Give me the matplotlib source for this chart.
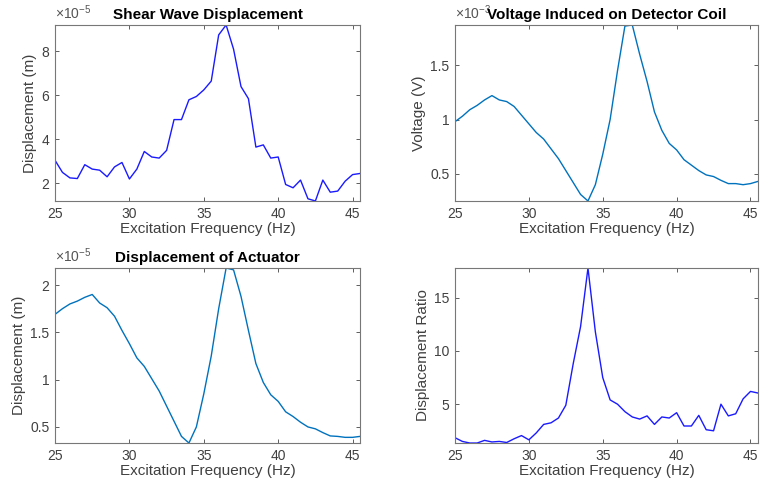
import numpy as np
import matplotlib
matplotlib.use('Agg')
import matplotlib.pyplot as plt
from matplotlib.ticker import FuncFormatter

plt.rcParams['font.family'] = ['Liberation Sans', 'DejaVu Sans']
plt.rcParams['mathtext.fontset'] = 'custom'
plt.rcParams['mathtext.rm'] = 'Liberation Sans'

freq = [25, 25.5, 26, 26.5, 27, 27.5, 28, 28.5, 29, 29.5, 30, 30.5, 31, 31.5,
        32, 32.5, 33, 33.5, 34, 34.5, 35, 35.5, 36, 36.5, 37, 37.5, 38, 38.5,
        39, 39.5, 40, 40.5, 41, 41.5, 42, 42.5, 43, 43.5, 44, 44.5, 45, 45.5]

# shear wave displacement, x1e-5 m
shear = [3.05, 2.5, 2.25, 2.22, 2.85, 2.65, 2.6, 2.3, 2.75, 2.95, 2.2, 2.65,
         3.45, 3.2, 3.15, 3.5, 4.9, 4.9, 5.8, 5.95, 6.25, 6.65, 8.75, 9.2,
         8.1, 6.4, 5.85, 3.65, 3.75, 3.15, 3.2, 1.95, 1.8, 2.15, 1.3, 1.2,
         2.15, 1.6, 1.65, 2.1, 2.4, 2.45]

# detector coil voltage, x1e-3 V
voltage = [0.98, 1.03, 1.09, 1.13, 1.18, 1.22, 1.18, 1.165, 1.12, 1.04, 0.96,
           0.88, 0.82, 0.73, 0.64, 0.53, 0.42, 0.31, 0.25, 0.40, 0.68, 1.00,
           1.45, 1.86, 1.87, 1.60, 1.35, 1.07, 0.90, 0.78, 0.72, 0.63, 0.58,
           0.53, 0.49, 0.475, 0.44, 0.41, 0.41, 0.40, 0.41, 0.43]

# actuator displacement, x1e-5 m
actuator = [1.69, 1.75, 1.80, 1.83, 1.87, 1.90, 1.81, 1.76, 1.67, 1.52, 1.38,
            1.23, 1.14, 1.01, 0.88, 0.72, 0.56, 0.40, 0.33, 0.50, 0.85, 1.25,
            1.75, 2.18, 2.16, 1.88, 1.52, 1.17, 0.97, 0.84, 0.77, 0.66, 0.61,
            0.55, 0.50, 0.48, 0.44, 0.405, 0.40, 0.39, 0.39, 0.40]

ratio = [1.85, 1.5, 1.35, 1.35, 1.6, 1.45, 1.5, 1.4, 1.75, 2.05, 1.65, 2.3,
         3.1, 3.25, 3.7, 4.9, 8.8, 12.3, 17.8, 11.8, 7.5, 5.4, 5.0, 4.3, 3.8,
         3.6, 3.9, 3.1, 3.8, 3.7, 4.2, 2.95, 2.95, 3.95, 2.6, 2.5, 5.0, 3.9,
         4.1, 5.5, 6.2, 6.05]

freq = np.array(freq)
panels = [
    (np.array(shear) * 1e-5, '#1a1aff', 'Shear Wave Displacement', 'Displacement (m)', [2e-5, 4e-5, 6e-5, 8e-5], -5),
    (np.array(voltage) * 1e-3, '#0072BD', 'Voltage Induced on Detector Coil', 'Voltage (V)', [0.5e-3, 1e-3, 1.5e-3], -3),
    (np.array(actuator) * 1e-5, '#0072BD', 'Displacement of Actuator', 'Displacement (m)', [0.5e-5, 1e-5, 1.5e-5, 2e-5], -5),
    (np.array(ratio), '#1a1aff', '', 'Displacement Ratio', [5, 10, 15], 0),
]
boxes = [
    [0.0723, 0.5873, 0.4008, 0.3614],
    [0.5979, 0.5873, 0.3980, 0.3614],
    [0.0723, 0.0903, 0.4008, 0.3594],
    [0.5979, 0.0903, 0.3980, 0.3594],
]

fig = plt.figure(figsize=(7.61, 4.87), dpi=100)
for (y, col, title, ylab, yt, ex), box in zip(panels, boxes):
    ax = fig.add_axes(box)
    ax.plot(freq, y, color=col, lw=1.0)
    ax.set_xlim(25, 45.5)
    ax.set_ylim(min(y), max(y))
    ax.set_xticks([25, 30, 35, 40, 45])
    ax.set_yticks(yt)
    sc = 10.0 ** ex
    ax.yaxis.set_major_formatter(FuncFormatter(lambda v, p, sc=sc: '%g' % round(v / sc, 6)))
    if ex:
        ax.text(0.0, 1.015, r'$\times10^{%d}$' % ex, transform=ax.transAxes,
                fontsize=10, color='#555555', ha='left', va='bottom')
    ax.tick_params(direction='in', top=True, right=True, length=3, width=0.6,
                   labelsize=10, colors='#444444', labelcolor='#404040', pad=4)
    for s in ax.spines.values():
        s.set_color('#777777')
        s.set_linewidth(0.8)
    ax.set_xlabel('Excitation Frequency (Hz)', fontsize=11, color='#404040', labelpad=1)
    ax.set_ylabel(ylab, fontsize=11, color='#404040', labelpad=3)
    if title:
        ax.set_title(title, fontsize=11, fontweight='bold', y=1.0, pad=4)

fig.savefig('out.png', dpi=100)
